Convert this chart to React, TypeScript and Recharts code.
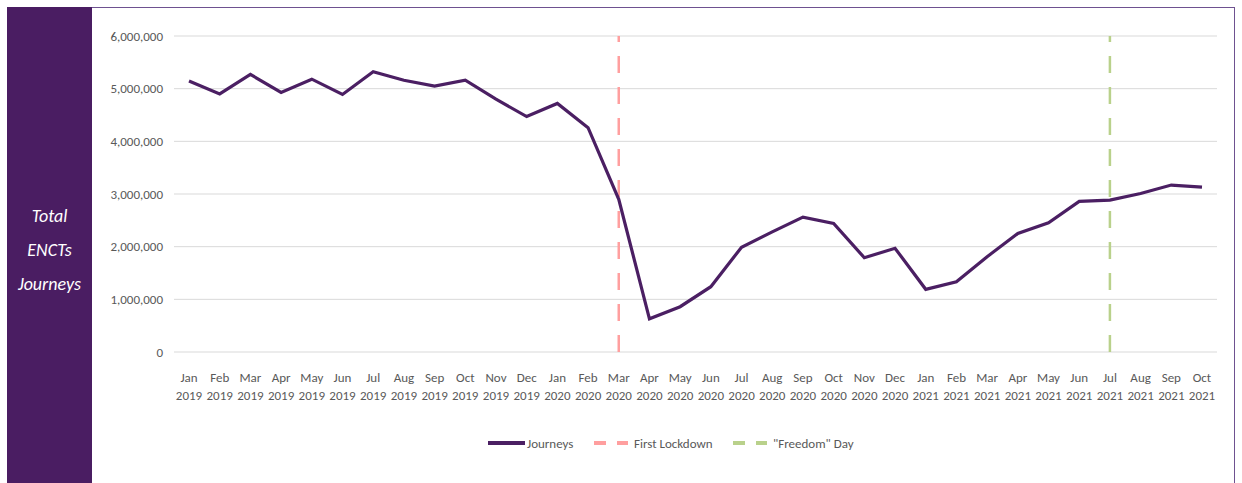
import React from "react";
import { LineChart, Line, XAxis, YAxis, CartesianGrid, ReferenceLine } from "recharts";

const months = ["Jan", "Feb", "Mar", "Apr", "May", "Jun", "Jul", "Aug", "Sep", "Oct", "Nov", "Dec"];
const journeys2019 = [5145000, 4900000, 5270000, 4930000, 5180000, 4890000, 5320000, 5160000, 5050000, 5160000, 4800000, 4470000];
const journeys2020 = [4720000, 4260000, 2900000, 630000, 860000, 1240000, 1990000, 2280000, 2560000, 2440000, 1790000, 1970000];
const journeys2021 = [1190000, 1335000, 1810000, 2250000, 2455000, 2860000, 2885000, 3010000, 3170000, 3130000];
const yTicks = [0, 1000000, 2000000, 3000000, 4000000, 5000000, 6000000];
const lockdownMonth = "Mar 2020";
const freedomMonth = "Jul 2021";
const panelLines = ["Total", "ENCTs", "Journeys"];

const data = [
  ...journeys2019.map((v, i) => ({ month: `${months[i]} 2019`, journeys: v })),
  ...journeys2020.map((v, i) => ({ month: `${months[i]} 2020`, journeys: v })),
  ...journeys2021.map((v, i) => ({ month: `${months[i]} 2021`, journeys: v })),
];

const FONT = "Carlito, 'Liberation Sans Narrow', 'Liberation Sans', Arial, sans-serif";
const PURPLE = "#4b1f63";
const RED = "#ff9f9f";
const GREEN = "#b9d18b";

const XTick = (props: any) => {
  const { x, y, payload } = props;
  const [m, yr] = String(payload.value).split(" ");
  return (
    <g transform={`translate(${x},${y})`}>
      <text textAnchor="middle" fill="#595959" fontSize={13} fontFamily={FONT}>
        <tspan x={0} dy={22}>{m}</tspan>
        <tspan x={0} dy={18}>{yr}</tspan>
      </text>
    </g>
  );
};

export default function App() {
  return (
    <div style={{ position: "absolute", left: 0, top: 0, width: 1242, height: 483, background: "#fff", overflow: "hidden" }}>
      <div style={{ position: "absolute", left: 7, top: 7, width: 1226, height: 500, border: "1.5px solid #6e5190" }} />
      <div style={{ position: "absolute", left: 7, top: 7, width: 85, height: 480, background: "#4a1d62" }} />
      <div style={{ position: "absolute", left: 7, top: 199, width: 85, textAlign: "center", color: "#fff", fontStyle: "italic", fontFamily: FONT, fontSize: 18, lineHeight: "34px" }}>
        {panelLines.map((t) => (
          <div key={t}>{t}</div>
        ))}
      </div>
      <div style={{ position: "absolute", left: 0, top: 0 }}>
        <LineChart width={1242} height={483} data={data} margin={{ top: 36, right: 25, bottom: 81, left: 0 }}>
          <CartesianGrid horizontal vertical={false} stroke="#d9d9d9" strokeWidth={1} />
          <XAxis
            dataKey="month"
            interval={0}
            axisLine={false}
            tickLine={false}
            height={50}
            padding={{ left: 15, right: 15 }}
            tick={<XTick />}
          />
          <YAxis
            width={174}
            domain={[0, 6000000]}
            ticks={yTicks}
            axisLine={false}
            tickLine={false}
            tickSize={0}
            tickMargin={11}
            tick={{ fill: "#595959", fontSize: 13, fontFamily: FONT }}
            tickFormatter={(v: number) => v.toLocaleString("en-US")}
          />
          <ReferenceLine x={lockdownMonth} stroke={RED} strokeWidth={2.5} strokeDasharray="17 14" />
          <ReferenceLine x={freedomMonth} stroke={GREEN} strokeWidth={2.5} strokeDasharray="17 14" />
          <Line
            type="linear"
            dataKey="journeys"
            stroke={PURPLE}
            strokeWidth={3.2}
            dot={false}
            activeDot={false}
            isAnimationActive={false}
          />
        </LineChart>
      </div>
      <div style={{ position: "absolute", left: 480, top: 432, fontFamily: FONT, fontSize: 13, color: "#595959" }}>
        <svg width={400} height={22}>
          <line x1={8} x2={45} y1={11} y2={11} stroke={PURPLE} strokeWidth={4} />
          <text x={47} y={15.5} fill="#595959" fontSize={13} fontFamily={FONT}>Journeys</text>
          <line x1={114} x2={148} y1={11} y2={11} stroke={RED} strokeWidth={4} strokeDasharray="12 11" />
          <text x={154} y={15.5} fill="#595959" fontSize={13} fontFamily={FONT}>First Lockdown</text>
          <line x1={253} x2={287} y1={11} y2={11} stroke={GREEN} strokeWidth={4} strokeDasharray="12 11" />
          <text x={293} y={15.5} fill="#595959" fontSize={13} fontFamily={FONT}>"Freedom" Day</text>
        </svg>
      </div>
    </div>
  );
}
